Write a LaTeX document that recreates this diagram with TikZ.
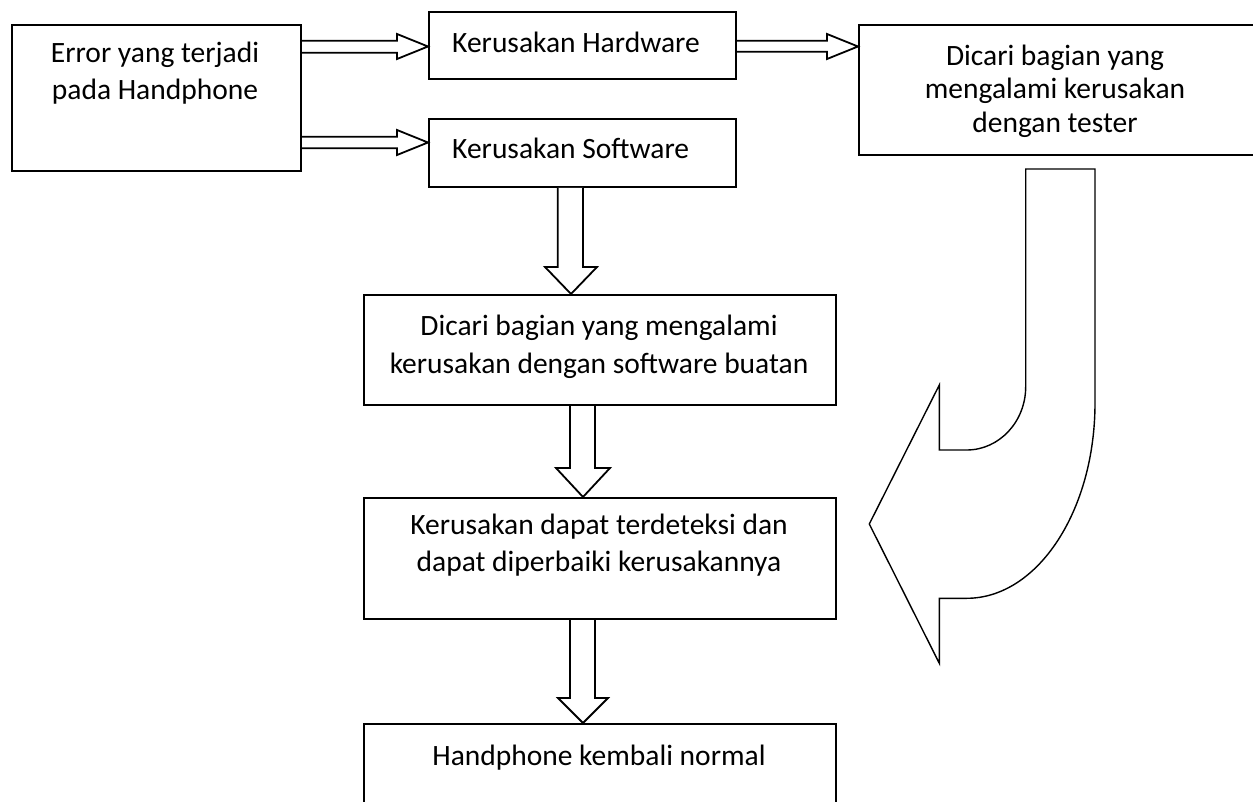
\documentclass[tikz,border=0pt]{standalone}
\usepackage{fontspec}
\setmainfont{Carlito}
\usetikzlibrary{calc}
\tikzset{
  box/.style={draw=black, line width=2pt, fill=white, inner sep=0pt, anchor=north west},
  txt/.style={inner sep=0pt, anchor=base, font=\fontsize{29.5}{35}\selectfont},
  txtl/.style={inner sep=0pt, anchor=base west, font=\fontsize{29.5}{35}\selectfont},
  blk/.style={draw=black, line width=1.8pt, fill=white, line join=miter},
  curv/.style={draw=black, line width=1.4pt, fill=white, line join=miter}
}
\begin{document}
\begin{tikzpicture}[x=1pt,y=-1pt]
\useasboundingbox (0,0) rectangle (1253,802);
% boxes
\node[box, minimum width=289pt, minimum height=146pt] (err) at (11,24) {};
\node[box, minimum width=307pt, minimum height=67pt] (hw) at (428,11) {};
\node[box, minimum width=307pt, minimum height=68pt] (sw) at (428,118) {};
\node[box, minimum width=400pt, minimum height=130pt] (tst) at (858,24) {};
\node[box, minimum width=472pt, minimum height=110pt] (dsw) at (363,294) {};
\node[box, minimum width=472pt, minimum height=121pt] (kdt) at (363,497) {};
\node[box, minimum width=472pt, minimum height=100pt] (hkn) at (363,723) {};
% texts
\node[txt] (t1a) at (155,63) {Error yang terjadi};
\node[txt] (t1b) at (155,100) {pada Handphone};
\node[txtl] (t2) at (452,53) {Kerusakan Hardware};
\node[txtl] (t3) at (452,159) {Kerusakan Software};
\node[txt] (t4a) at (1055,66) {Dicari bagian yang};
\node[txt] (t4b) at (1055,99) {mengalami kerusakan};
\node[txt] (t4c) at (1055,133) {dengan tester};
\node[txt] (t5a) at (599,336) {Dicari bagian yang mengalami};
\node[txt] (t5b) at (599,373) {kerusakan dengan software buatan};
\node[txt] (t6a) at (599,534) {Kerusakan dapat terdeteksi dan};
\node[txt] (t6b) at (599,571) {dapat diperbaiki kerusakannya};
\node[txt] (t7) at (599,765) {Handphone kembali normal};
% horizontal block arrows
\draw[blk] (err.east |- 0,40.7) -- (397,40.7) -- (397,34) -- (hw.west |- 0,46.5) -- (397,59) -- (397,52.7) -- (err.east |- 0,52.7);
\draw[blk] (err.east |- 0,136.7) -- (397,136.7) -- (397,130) -- (sw.west |- 0,142.5) -- (397,155) -- (397,148.3) -- (err.east |- 0,148.3);
\draw[blk] (hw.east |- 0,40.7) -- (827,40.7) -- (827,34) -- (tst.west |- 0,46.5) -- (827,59) -- (827,51.7) -- (hw.east |- 0,51.7);
% vertical block arrows
\draw[blk] (557.7,0 |- sw.south) -- (557.7,267) -- (545,267) -- (571,0 |- dsw.north) -- (597,267) -- (583,267) -- (583,0 |- sw.south);
\draw[blk] (570,0 |- dsw.south) -- (570,468) -- (556,468) -- (583,0 |- kdt.north) -- (610,468) -- (595,468) -- (595,0 |- dsw.south);
\draw[blk] (570,0 |- kdt.south) -- (570,698) -- (558,698) -- (583,0 |- hkn.north) -- (608,698) -- (595,698) -- (595,0 |- kdt.south);
% curved block arrow
\draw[curv] (1025.7,169) -- (1095,169) -- (1095,403)
  .. controls (1095,510.8) and (1037.5,598.3) .. (966.7,598.3)
  -- (939.3,598.3) -- (939.3,663.3) -- (869.3,524) -- (939.3,385) -- (939.3,450) -- (966.7,450)
  .. controls (999.3,450) and (1025.7,421.6) .. (1025.7,386.7) -- cycle;
\end{tikzpicture}
\end{document}
